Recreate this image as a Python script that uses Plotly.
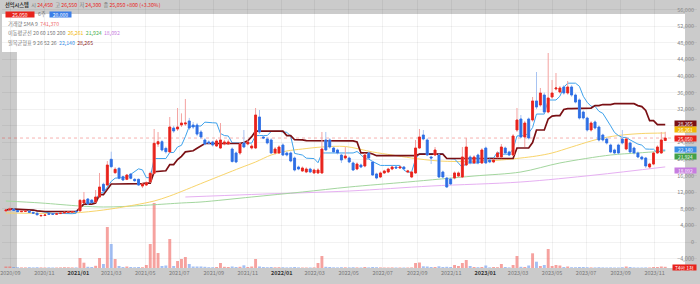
import pandas as pd
import plotly.graph_objects as go

# ---------------- data (weekly candles, KRW) ----------------
first_week = "2020-08-24"

opens = [
    7500, 7700, 7950, 7600, 7300, 7400, 7450, 7150, 6950, 6300,
    6400, 6850, 6800, 6700, 6850, 7000, 7150, 7200, 7400, 7500,
    9400, 10360, 10100, 9640, 10840, 13900, 13730, 19930, 16700, 17760,
    15740, 15100, 16380, 15100, 15100, 13490, 13730, 14530, 16550, 23610,
    24170, 22570, 21690, 27470, 27230, 28190, 28430, 29160, 28190, 28190,
    26500, 24580, 24100, 24100, 23130, 22650, 23610, 23610, 22410, 21450,
    21450, 23860, 23610, 22650, 22650, 30120, 25300, 24820, 24580, 21450,
    21450, 23370, 21450, 21450, 20240, 18070, 17110, 16870, 17590, 16630,
    16630, 16630, 24580, 24580, 22650, 22170, 20960, 20240, 20240, 19040,
    17590, 18550, 18310, 21450, 19280, 16390, 15660, 16630, 16870, 17590,
    18070, 17830, 18070, 16870, 15660, 16630, 22650, 25780, 24580, 20480,
    20960, 20960, 16870, 15420, 15180, 15420, 15900, 15660, 18550, 20480,
    19040, 20960, 19040, 22650, 19760, 19280, 20480, 20480, 22650, 21690,
    20960, 26990, 29640, 25300, 29640, 29400, 33980, 33010, 35420, 31320,
    34940, 36870, 36140, 37350, 35900, 37350, 35420, 34220, 31320, 29880,
    26990, 28920, 27710, 25780, 24820, 23370, 22170, 23370, 24820, 22410,
    23860, 22650, 21450, 20480, 20240, 18070, 18790, 21450, 21450, 24450,
]
highs = [
    8000, 8500, 8100, 7700, 7600, 7600, 7500, 7250, 7000, 6550,
    6700, 6950, 6900, 6900, 7050, 7300, 7350, 7450, 7500, 10300,
    12050, 10600, 10300, 12530, 16630, 14300, 19500, 21760, 18000, 18000,
    16000, 16400, 16600, 15400, 15300, 14300, 14600, 17000, 27230, 26500,
    24600, 23000, 30120, 28000, 32290, 31000, 34460, 29900, 28900, 28700,
    27000, 25000, 24500, 24400, 24800, 28670, 24600, 24700, 22800, 21800,
    24000, 26990, 24500, 23600, 32290, 31810, 25700, 25300, 25000, 22900,
    23300, 23800, 21800, 21800, 20600, 18400, 18200, 18000, 17900, 17700,
    17800, 26510, 26510, 25000, 23000, 22500, 21300, 22890, 20600, 19400,
    19200, 18900, 21400, 21800, 19600, 16700, 17000, 17400, 17900, 18400,
    18400, 18400, 18300, 17400, 17100, 24580, 27230, 26990, 25000, 20800,
    22890, 21300, 17200, 15700, 15500, 17000, 17000, 22890, 25060, 20900,
    20900, 21300, 22600, 23000, 20100, 20100, 21800, 23610, 23000, 22000,
    26000, 32290, 30600, 29200, 30000, 34940, 40960, 37110, 36000, 45540,
    39040, 40720, 37600, 37800, 38800, 37800, 35800, 34600, 31700, 30200,
    29100, 29300, 28100, 26100, 25200, 23700, 22500, 23700, 26990, 25200,
    24200, 23000, 21800, 20800, 20500, 19100, 21800, 23300, 26510, 26550,
]
lows = [
    7300, 7600, 7500, 7200, 7200, 7300, 7050, 6900, 6500, 6200,
    6350, 6600, 6650, 6650, 6800, 6950, 7100, 7150, 7200, 7450,
    9300, 9000, 9300, 9500, 10700, 12000, 13500, 17800, 16400, 15100,
    14700, 14900, 15100, 14500, 13500, 13000, 13500, 14300, 16300, 22900,
    21800, 21300, 21450, 26300, 26750, 27700, 27950, 27000, 27200, 25500,
    24800, 23300, 23500, 23000, 22900, 22400, 23300, 23400, 19100, 19000,
    21000, 22600, 23300, 22300, 22400, 26000, 24800, 23500, 21200, 21100,
    21200, 20700, 20600, 19200, 17000, 17300, 16900, 16600, 16600, 16400,
    16400, 16400, 21900, 22500, 21400, 21100, 19040, 19900, 19000, 17100,
    17300, 17800, 18000, 19900, 15900, 15100, 15400, 16400, 16600, 17300,
    17600, 17600, 17300, 16600, 15400, 16400, 22400, 24500, 20700, 18790,
    20700, 15400, 15400, 13010, 13700, 15100, 15600, 15400, 18300, 18700,
    18800, 18700, 18800, 18800, 19000, 19000, 20200, 20200, 21200, 20700,
    20700, 26500, 25000, 22890, 24700, 29000, 32000, 32600, 31000, 31000,
    34500, 36500, 35800, 35500, 35500, 35000, 33400, 29500, 29500, 26600,
    26600, 27100, 24200, 24200, 23500, 21400, 21100, 21100, 23500, 22100,
    21400, 21100, 20200, 19700, 17830, 17730, 18500, 21200, 21200, 24300,
]
closes = [
    7700, 7950, 7600, 7300, 7400, 7450, 7150, 6950, 6550, 6400,
    6500, 6700, 6700, 6800, 6950, 7150, 7250, 7300, 7300, 10050,
    10100, 9160, 9500, 10840, 13250, 12300, 18550, 18150, 17520, 15350,
    14940, 16140, 15350, 14770, 13730, 13980, 14290, 16550, 23780, 24170,
    22170, 21760, 27710, 26750, 27710, 28670, 28670, 27470, 27710, 26000,
    25300, 23610, 23860, 23370, 24340, 24580, 24100, 24100, 19400, 19280,
    23610, 22890, 24100, 23130, 30600, 26510, 25060, 23860, 21450, 22410,
    22890, 20960, 20960, 19520, 17350, 17590, 17830, 17590, 16870, 17350,
    17350, 22410, 22170, 22890, 21690, 21450, 19760, 20720, 19280, 17350,
    18790, 18070, 20960, 20240, 16140, 15420, 16630, 17110, 17590, 18070,
    17830, 18070, 17590, 17110, 16870, 22650, 25300, 24820, 20960, 20240,
    22170, 15660, 15660, 13250, 13980, 16630, 16630, 20480, 22890, 19040,
    20480, 19040, 22170, 19040, 19280, 19760, 21450, 22890, 21450, 20960,
    25540, 29400, 25300, 28670, 25060, 33980, 32530, 35900, 31320, 34700,
    35900, 37110, 37110, 35900, 37350, 35420, 33730, 29880, 29880, 26990,
    28670, 27470, 24580, 24580, 23860, 21690, 21450, 21450, 23860, 24820,
    21690, 21450, 20480, 20000, 18310, 18790, 21450, 22890, 24580, 25050,
]
volumes = [
    1350000, 1350000, 900000, 720000, 540000, 540000, 720000, 540000, 720000, 540000,
    450000, 540000, 450000, 450000, 540000, 720000, 630000, 540000, 540000, 9000000,
    4770000, 1080000, 900000, 1980000, 9000000, 3600000, 36900000, 21600000, 8100000, 1800000,
    900000, 1350000, 900000, 720000, 900000, 720000, 2700000, 21600000, 58500000, 13500000,
    1800000, 2250000, 26100000, 1800000, 6300000, 8100000, 9900000, 3600000, 1350000, 1350000,
    1350000, 1080000, 720000, 720000, 900000, 4500000, 1080000, 900000, 1350000, 900000,
    1080000, 2430000, 900000, 1350000, 8100000, 1350000, 900000, 720000, 900000, 630000,
    720000, 720000, 540000, 630000, 900000, 540000, 450000, 450000, 450000, 540000,
    4500000, 10800000, 1080000, 900000, 630000, 540000, 720000, 630000, 540000, 720000,
    540000, 450000, 900000, 540000, 900000, 720000, 540000, 450000, 450000, 540000,
    450000, 450000, 450000, 450000, 540000, 4500000, 4950000, 1530000, 1350000, 900000,
    900000, 1530000, 900000, 1080000, 900000, 2700000, 1800000, 4500000, 7200000, 1800000,
    900000, 720000, 900000, 2250000, 540000, 900000, 720000, 3600000, 900000, 540000,
    2700000, 10800000, 1080000, 900000, 2250000, 13230000, 5670000, 1800000, 2700000, 17100000,
    1800000, 2700000, 2250000, 900000, 1350000, 720000, 720000, 900000, 900000, 720000,
    540000, 540000, 720000, 540000, 450000, 540000, 450000, 450000, 720000, 1350000,
    900000, 540000, 450000, 450000, 540000, 450000, 900000, 900000, 1350000, 1080000,
]

# moving averages (week index -> value)
ma60_weeks = [0, 17, 25, 33, 38, 42, 51, 60, 64, 68, 72, 76, 81, 87, 94, 99, 104,
              111, 120, 127, 132, 136, 140, 145, 150, 153, 158, 163, 169]
ma60_vals = [6990, 6990, 7710, 8920, 9880, 11080, 14460, 17830, 19280, 20960, 21930,
             22410, 22890, 23010, 21690, 20960, 20240, 19520, 19400, 19760, 20240,
             20720, 21450, 22890, 24340, 25060, 25780, 26140, 26261]
ma150_weeks = [0, 9, 19, 25, 30, 37, 45, 50, 63, 76, 88, 103, 120, 132, 142, 155, 162, 169]
ma150_vals = [9880, 9400, 8670, 8430, 8550, 8920, 9400, 9640, 10840, 12050, 13250,
              14460, 15900, 16870, 19040, 20960, 21450, 21924]
ma200_weeks = [46, 63, 88, 109, 132, 151, 169]
ma200_vals = [10840, 11450, 12290, 13490, 14460, 16140, 18092]

price_ticks = list(range(-4000, 56001, 4000))
month_ticks = pd.date_range("2020-09-01", "2023-11-01", freq="2MS")

# ---------------- derived ----------------
dates = pd.date_range(first_week, periods=len(closes), freq="7D")
df = pd.DataFrame({"o": opens, "h": highs, "l": lows, "c": closes, "v": volumes}, index=dates)
tenkan = (df.h.rolling(9, min_periods=1).max() + df.l.rolling(9, min_periods=1).min()) / 2
kijun = (df.h.rolling(26, min_periods=1).max() + df.l.rolling(26, min_periods=1).min()) / 2
up = df.c >= df.o
body_hi = df[["o", "c"]].max(axis=1)
body_lo = df[["o", "c"]].min(axis=1)

RED = "#e8231c"
BLUE = "#2f6fe4"
GRID = "rgba(0,0,0,0.05)"
W, H = 697.0, 268.0  # plot area in px
FS = 5.5


def px(x):
    return x / W


def py(y):
    return 1 - y / H


YMIN, YMAX = -6265, 58312

fig = go.Figure()

# volume
fig.add_bar(x=dates, y=df.v, yaxis="y", xaxis="x",
            marker=dict(color=["rgba(240,100,95,0.6)" if u else "rgba(90,140,235,0.55)" for u in up],
                        line=dict(width=0)),
            width=7 * 24 * 3600 * 1000 * 0.75, hoverinfo="skip")

# moving averages
for wk, vals, col in [(ma200_weeks, ma200_vals, "#e6b0f2"),
                      (ma150_weeks, ma150_vals, "#a3d69e"),
                      (ma60_weeks, ma60_vals, "#f8d46a")]:
    fig.add_scatter(x=dates[wk], y=vals, mode="lines", yaxis="y2",
                    line=dict(color=col, width=1, shape="spline", smoothing=0.9), hoverinfo="skip")

# ichimoku
fig.add_scatter(x=dates, y=tenkan, mode="lines", yaxis="y2",
                line=dict(color="#3ea2ec", width=1), hoverinfo="skip")
fig.add_scatter(x=dates, y=kijun, mode="lines", yaxis="y2",
                line=dict(color="#7a1014", width=1.7), hoverinfo="skip")

# candles: light wicks, then solid bodies
fig.add_trace(go.Candlestick(x=dates, open=df.o, high=df.h, low=df.l, close=df.c, yaxis="y3",
                             increasing=dict(line=dict(color="#f4a2a0", width=1), fillcolor="#f4a2a0"),
                             decreasing=dict(line=dict(color="#a7c3f2", width=1), fillcolor="#a7c3f2"),
                             whiskerwidth=0, hoverinfo="skip"))
fig.add_trace(go.Candlestick(x=dates, open=df.o, high=body_hi, low=body_lo, close=df.c, yaxis="y3",
                             increasing=dict(line=dict(color=RED, width=0.8), fillcolor=RED),
                             decreasing=dict(line=dict(color=BLUE, width=0.8), fillcolor=BLUE),
                             whiskerwidth=0, hoverinfo="skip"))

ticktext = []
for d in month_ticks:
    s = f"{d.year}/{d.month:02d}"
    ticktext.append(f"<b><span style='color:#333'>{s}</span></b>" if d.month == 1 else s)

shapes = [
    dict(type="rect", xref="paper", yref="paper", x0=-0.01, x1=1.01, y0=py(14), y1=1.01,
         fillcolor="#cbcbcb", line_width=0, layer="below"),
    dict(type="rect", xref="paper", yref="paper", x0=-0.01, x1=px(15), y0=0, y1=py(52),
         fillcolor="#cbcbcb", line_width=0, layer="below"),
    dict(type="rect", xref="paper", yref="paper", x0=px(685), x1=1.01, y0=-0.1, y1=1.01,
         fillcolor="#cbcbcb", line_width=0, layer="below"),
    dict(type="line", xref="paper", yref="y2", x0=0, x1=px(685), y0=closes[-1], y1=closes[-1],
         line=dict(color="rgba(232,35,28,0.35)", width=1, dash="dot"), layer="below"),
]

ann = []


def c(t, col):
    return f"<span style='color:{col}'>{t}</span>"


def text(t, x, y, color="#777", size=5.2):
    ann.append(dict(text=t, xref="paper", yref="paper", x=px(x), y=py(y), xanchor="left",
                    yanchor="middle", showarrow=False, font=dict(size=size, color=color),
                    borderpad=0))


def box(t, xc, y, bg, w, yref="paper", yval=None, yshift=0, xanchor="center", fs=5):
    ann.append(dict(text=t, xref="paper", x=px(xc), xanchor=xanchor,
                    yref=yref, y=(py(y) if yref == "paper" else yval), yanchor="middle",
                    yshift=yshift, showarrow=False, bgcolor=bg, width=w, height=5.4, borderpad=0,
                    font=dict(size=fs, color="white"), align="center"))


# header row
text(c("<b>선익시스템</b>", "#333") + "  시 " + c("24,450", RED) + "  고 " + c("26,550", RED)
     + "  저 " + c("24,300", RED) + "  종 " + c("25,050", RED) + " " + c("+800 (+3.30%)", RED), 2, 5)
box("25,050", 18, 14, RED, 28)
text("6주", 35, 14)
box("20,000", 59, 14, "#3b7ee8", 21)
# indicator legend
text("거래량 SMA 9  " + c("741,370", "#ef6b6b"), 5, 24)
text("이동평균선 20 60 150 200  " + c("26,261", "#f2b705") + "  " + c("21,924", "#4caf50")
     + "  " + c("18,092", "#c97de0"), 5, 33)
text("일목균형표 9 26 52 26  " + c("22,140", "#3a8ee6") + "  " + c("28,265", "#8b1a1a"), 5, 43)

# right-side value tags (stacked like the reference so they do not collide)
for val, bg, ys in [(kijun.iloc[-1], "#7a1014", 1.2), (ma60_vals[-1], "#f2b705", 3.2),
                    (closes[-1], RED, 0.0), (tenkan.iloc[-1], "#3a8ee6", 0.6),
                    (ma150_vals[-1], "#43a047", -5.2), (ma200_vals[-1], "#c77de0", -4)]:
    box(f"{int(round(val)):,}", W, 0, bg, 21, yref="y2", yval=val, yshift=ys, xanchor="right",
        fs=4.8)
box("74만 1천", W, 267, RED, 23, xanchor="right")

fig.update_layout(
    width=700, height=284, margin=dict(l=0, r=3, t=0, b=16),
    paper_bgcolor="#cbcbcb", plot_bgcolor="#ffffff", showlegend=False,
    font=dict(family="Noto Sans CJK KR, Noto Sans, sans-serif", size=FS, color="#777"),
    boxgap=0.3,
    xaxis=dict(type="date", range=["2020-08-17", "2024-01-16"], rangeslider=dict(visible=False),
               tickvals=month_ticks, ticktext=ticktext, showgrid=True, gridcolor=GRID,
               ticklabeloverflow="allow",
               ticks="", showline=False, zeroline=False, tickfont=dict(size=FS, color="#777")),
    yaxis=dict(range=[0, 241.2e6], visible=False, showgrid=False),
    yaxis2=dict(overlaying="y", side="right", range=[YMIN, YMAX], tickvals=price_ticks,
                tickformat=",", ticklabelposition="inside", showgrid=True, gridcolor=GRID,
                zeroline=False, showline=False, ticks="", tickfont=dict(size=FS, color="#888")),
    yaxis3=dict(overlaying="y", range=[YMIN, YMAX], visible=False, showgrid=False),
    shapes=shapes, annotations=ann,
)

fig.write_html("out.html", config={"displayModeBar": False})
